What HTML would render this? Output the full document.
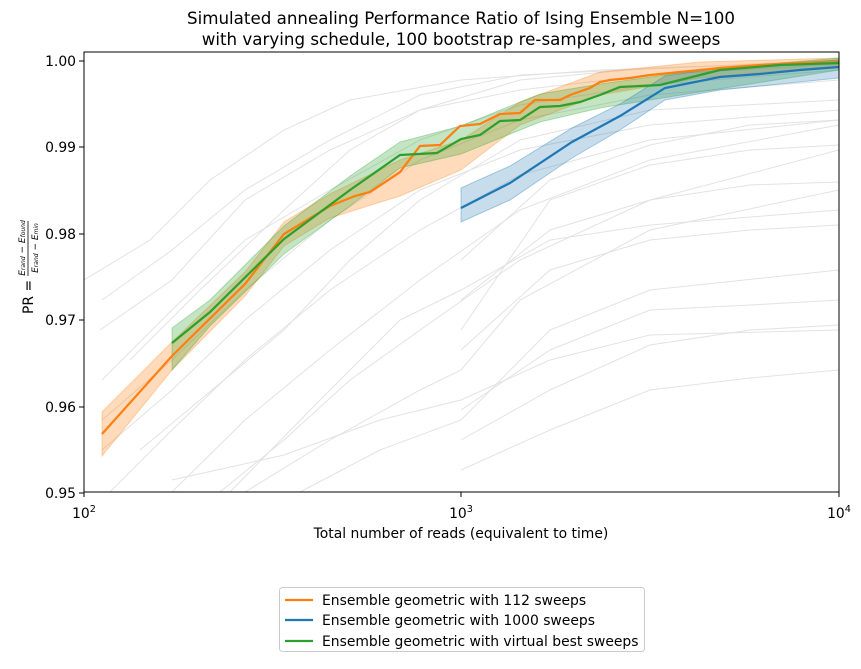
<!DOCTYPE html>
<html><head><meta charset="utf-8"><style>
body{margin:0;background:#fff;}
svg text{font-family:"DejaVu Sans","Liberation Sans",sans-serif;fill:#000;}
</style></head><body>
<svg width="861" height="664" viewBox="0 0 861 664" xmlns="http://www.w3.org/2000/svg">
<rect width="861" height="664" fill="#fff"/>
<text x="461" y="24" font-size="16.7" text-anchor="middle">Simulated annealing Performance Ratio of Ising Ensemble N=100</text>
<text x="461" y="45" font-size="16.7" text-anchor="middle">with varying schedule, 100 bootstrap re-samples, and sweeps</text>
<defs><clipPath id="c"><rect x="84" y="52" width="755" height="440"/></clipPath></defs>
<g clip-path="url(#c)" fill="none" stroke-width="1">
<g stroke="#d0d0d0" opacity="0.6">
<polyline points="84,280 150,240 210,180 284,130 350,100 461,80 600,70 839,62"/>
<polyline points="100,330 172,280 245,200 330,150 420,110 520,90 650,75 839,64"/>
<polyline points="102,380 172,310 245,240 330,190 420,140 520,105 650,85 839,70"/>
<polyline points="102,420 172,360 245,290 330,220 420,160 520,120 650,95 839,80"/>
<polyline points="102,450 172,390 245,320 330,250 420,190 520,150 650,125 839,110"/>
<polyline points="110,492 172,430 245,360 330,290 420,230 520,175 650,140 839,120"/>
<polyline points="172,492 245,420 330,350 420,280 520,210 650,160 839,125"/>
<polyline points="220,492 284,440 350,380 420,330 520,260 650,200 839,150"/>
<polyline points="245,492 330,440 420,390 461,370 520,300 650,230 839,190"/>
<polyline points="300,492 380,450 461,420 550,330 650,290 839,270"/>
<polyline points="461,440 550,390 650,345 750,330 839,325"/>
<polyline points="461,470 550,430 650,390 750,378 839,370"/>
<polyline points="461,410 550,350 650,310 750,305 839,300"/>
<polyline points="172,480 284,455 380,420 461,400 550,360 650,335 839,330"/>
<polyline points="140,450 200,400 284,330 350,260 420,200 520,140 650,110 839,100"/>
<polyline points="130,360 200,290 284,210 350,150 420,110 520,80 650,68 839,62"/>
<polyline points="102,300 172,250 245,190 330,140 420,95 520,75 839,60"/>
<polyline points="461,300 550,230 650,200 750,185 839,182"/>
<polyline points="461,350 550,270 650,240 750,230 839,225"/>
<polyline points="461,260 550,180 650,145 750,125 839,120"/>
<polyline points="461,330 550,200 650,165 750,150 839,145"/>
<polyline points="230,492 320,400 400,320 461,290 550,240 650,225 839,210"/>
</g>
<polygon fill="#ff7f0e" fill-opacity="0.28" stroke="#ff7f0e" stroke-opacity="0.3" points="102,412 172,342 245,272 284,222 330,194 400,160 461,140 520,102 600,72 700,62 839,58 839,66 700,78 600,95 520,125 461,170 400,196 330,218 284,246 245,296 172,370 102,456"/>
<polygon fill="#2ca02c" fill-opacity="0.28" stroke="#2ca02c" stroke-opacity="0.3" points="172,328 210,300 284,226 350,176 400,142 461,126 540,94 600,84 700,70 839,58 839,70 700,92 600,108 540,122 461,154 400,168 350,206 284,254 210,326 172,370"/>
<polygon fill="#1f77b4" fill-opacity="0.25" stroke="#1f77b4" stroke-opacity="0.35" points="461,188 510,166 572,128 620,104 665,76 720,68 839,60 839,78 720,90 665,100 620,130 572,158 510,200 461,222"/>
<polyline stroke="#ff7f0e" stroke-width="2.2" points="102,434 172,356 245,284 284,234 330,206 355,196 370,192 400,172 420,146 440,145 460,126 480,124 500,114 520,113 535,100 560,100 570,95 590,88 600,82 610,80 630,78 650,75 680,72 720,68 760,65 800,63 839,62"/>
<polyline stroke="#1f77b4" stroke-width="2.2" points="461,208 510,183 572,142 620,116 665,88 720,77 760,74 800,70 839,67"/>
<polyline stroke="#2ca02c" stroke-width="2.2" points="172,343 210,312 284,239 350,190 400,155 437,153 461,139 480,135 500,121 520,120 540,107 560,106 580,102 600,95 620,87 640,86 660,85 680,80 720,70 780,65 839,63"/>
</g>
<rect x="84" y="52" width="755" height="440" fill="none" stroke="#000" stroke-width="1"/>
<g stroke="#000" stroke-width="1">
<line x1="84" y1="492" x2="84" y2="497"/><line x1="461" y1="492" x2="461" y2="497"/><line x1="839" y1="492" x2="839" y2="497"/>
<line x1="79" y1="61" x2="84" y2="61"/><line x1="79" y1="147" x2="84" y2="147"/><line x1="79" y1="234" x2="84" y2="234"/><line x1="79" y1="320" x2="84" y2="320"/><line x1="79" y1="407" x2="84" y2="407"/><line x1="79" y1="493" x2="84" y2="493"/>
</g>
<g font-size="13.9" text-anchor="end">
<text x="76" y="66">1.00</text><text x="76" y="152">0.99</text><text x="76" y="239">0.98</text><text x="76" y="325">0.97</text><text x="76" y="412">0.96</text><text x="76" y="498">0.95</text>
</g>
<g font-size="13.9" text-anchor="middle">
<text x="84" y="518">10<tspan font-size="9.7" dy="-6">2</tspan></text>
<text x="461" y="518">10<tspan font-size="9.7" dy="-6">3</tspan></text>
<text x="839" y="518">10<tspan font-size="9.7" dy="-6">4</tspan></text>
</g>
<text x="461" y="538" font-size="13.9" text-anchor="middle">Total number of reads (equivalent to time)</text>
<g transform="translate(28,272) rotate(-90)" font-size="13.9">
<text x="-42" y="5">PR =</text>
<line x1="-4" y1="0" x2="51" y2="0" stroke="#000" stroke-width="0.8"/>
<text x="24" y="-3" font-size="9" text-anchor="middle" font-style="italic">E<tspan font-size="6">rand</tspan> − E<tspan font-size="6">found</tspan></text>
<text x="24" y="10" font-size="9" text-anchor="middle" font-style="italic">E<tspan font-size="6">rand</tspan> − E<tspan font-size="6">min</tspan></text>
</g>
<rect x="279.5" y="587.5" width="365" height="64" rx="3" fill="#fff" stroke="#ccc"/>
<g stroke-width="2.2">
<line x1="285" y1="600" x2="313" y2="600" stroke="#ff7f0e"/>
<line x1="285" y1="620" x2="313" y2="620" stroke="#1f77b4"/>
<line x1="285" y1="641" x2="313" y2="641" stroke="#2ca02c"/>
</g>
<g font-size="13.9">
<text x="322" y="605">Ensemble geometric with 112 sweeps</text>
<text x="322" y="625">Ensemble geometric with 1000 sweeps</text>
<text x="322" y="646">Ensemble geometric with virtual best sweeps</text>
</g>
</svg>
</body></html>
